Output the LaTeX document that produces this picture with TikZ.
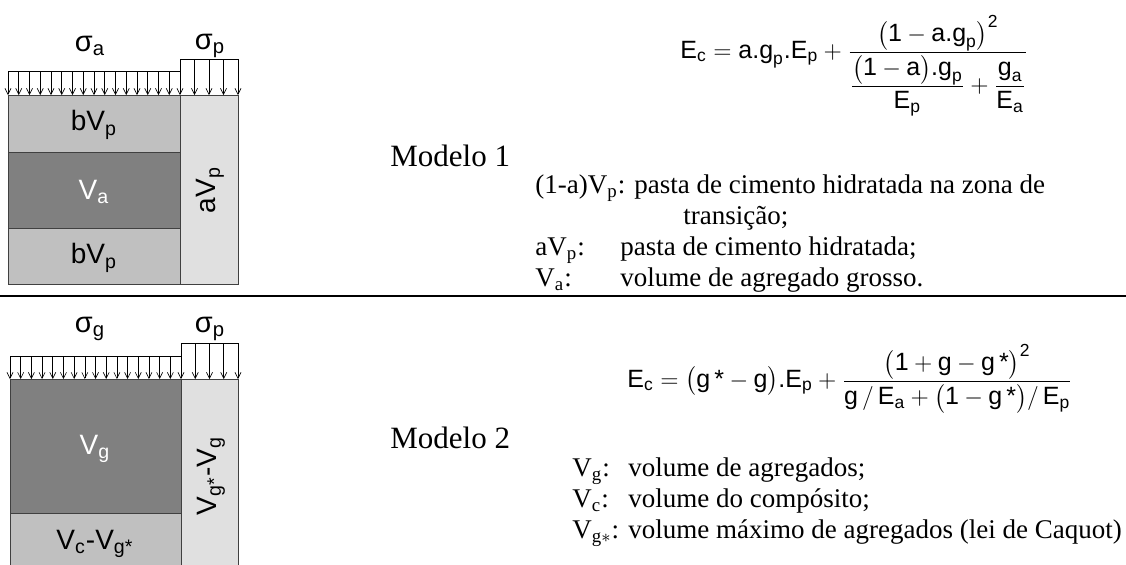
\documentclass[tikz,border=0pt]{standalone}
\usepackage{amsmath}
\usepackage{fontspec}
\setmainfont{Liberation Serif}
\setsansfont{Liberation Sans}
\usetikzlibrary{arrows.meta}

\definecolor{lightcell}{HTML}{C0C0C0}
\definecolor{darkcell}{HTML}{808080}
\definecolor{palecell}{HTML}{E0E0E0}
\newcommand{\eqsub}[2]{\textsf{#1}_{\textsf{#2}}}

\begin{document}
\begin{tikzpicture}[x=0.5pt, y=-0.5pt,
  cell/.style={draw=black!75, line width=0.5pt},
  lbl/.style={font=\sffamily\fontsize{14}{16}\selectfont, inner sep=0pt},
  sig/.style={font=\sffamily\fontsize{14.5}{16}\selectfont, inner sep=0pt},
  mdl/.style={anchor=base west, inner sep=0pt, font=\fontsize{15.5}{18}\selectfont},
  leg/.style={anchor=base west, inner sep=0pt, font=\fontsize{13.5}{16}\selectfont},
  eqn/.style={anchor=base west, inner sep=0pt, font=\fontsize{12.5}{15}\selectfont},
  load/.style={-{Straight Barb[length=3pt,width=3pt]}, line width=0.3pt}
]
\useasboundingbox (0,0) rectangle (1126,564);
\clip (0,0) rectangle (1126,564);

% Modelo 1
\filldraw[cell, fill=lightcell] (8,95) rectangle (180,152);
\filldraw[cell, fill=darkcell] (8,152) rectangle (180,228);
\filldraw[cell, fill=lightcell] (8,228) rectangle (180,284);
\filldraw[cell, fill=palecell] (180,95) rectangle (238,284);
\draw[line width=0.4pt] (8,71) -- (180,71);
\draw[line width=0.4pt] (180,59) -- (238,59);
\foreach \i in {0,...,15}
  \draw[load] ({8+\i*10.75},71) -- ({8+\i*10.75},95);
\foreach \i in {0,...,4}
  \draw[load] ({180+\i*14.5},59) -- ({180+\i*14.5},95);
\node[sig] (siga) at (90,46) {σ\textsubscript{a}};
\node[sig] (sigp) at (210,46) {σ\textsubscript{p}};
\node[lbl] (bvp1) at (94,125) {bV\textsubscript{p}};
\node[lbl, white] (va) at (94,192) {V\textsubscript{a}};
\node[lbl] (bvp2) at (94,258) {bV\textsubscript{p}};
\node[lbl, rotate=90] (avp) at (210,190) {aV\textsubscript{p}};

\node[mdl] (mod1) at (390,166) {Modelo 1};
\node[eqn] (eq1) at (680,58) {$\displaystyle \eqsub{E}{c} = \eqsub{a.g}{p}\eqsub{.E}{p} +
  \frac{\smash[b]{\bigl(\textsf{1} - \eqsub{a.g}{p}\bigr)^{\textsf{2}}}}
       {\dfrac{\smash[b]{\bigl(\textsf{1} - \textsf{a}\bigr)\eqsub{.g}{p}}}{\eqsub{E}{p}} + \dfrac{\eqsub{g}{a}}{\eqsub{E}{a}}}$};
\foreach \y/\txt [count=\i] in {
  193/{(1-a)V\textsubscript{p}: pasta de cimento hidratada na zona de},
  224/{\hspace{74pt}transição;},
  255/{\makebox[42.5pt][l]{aV\textsubscript{p}:}pasta de cimento hidratada;},
  286/{\makebox[42.5pt][l]{V\textsubscript{a}:}volume de agregado grosso.}}
  \node[leg] (legA-\i) at (535,\y) {\txt};

\draw[line width=1.3pt] (0,296) -- (1126,296);

% Modelo 2
\filldraw[cell, fill=darkcell] (10,379) rectangle (181,513);
\filldraw[cell, fill=lightcell] (10,513) rectangle (181,580);
\filldraw[cell, fill=palecell] (181,379) rectangle (238,580);
\draw[line width=0.4pt] (10,356) -- (181,356);
\draw[line width=0.4pt] (181,343) -- (238,343);
\foreach \i in {0,...,15}
  \draw[load] ({10+\i*10.69},356) -- ({10+\i*10.69},379);
\foreach \i in {0,...,4}
  \draw[load] ({181+\i*14.25},343) -- ({181+\i*14.25},379);
\node[sig] (sigg) at (90,329) {σ\textsubscript{g}};
\node[sig] (sigp2) at (210,329) {σ\textsubscript{p}};
\node[lbl, white] (vg) at (95,449) {V\textsubscript{g}};
\node[lbl] (vcg) at (95,544) {V\textsubscript{c}-V\textsubscript{g*}};
\node[lbl, rotate=90] (vgg) at (211,476) {V\textsubscript{g*}-V\textsubscript{g}};

\node[mdl] (mod2) at (390,448) {Modelo 2};
\node[eqn] (eq2) at (627,387) {$\displaystyle \eqsub{E}{c} = \bigl(\textsf{g\,*} - \textsf{g}\bigr)\eqsub{.E}{p} +
  \frac{\smash[b]{\bigl(\textsf{1} + \textsf{g} - \textsf{g\,*}\bigr)^{\textsf{2}}}}
       {\textsf{g}\,/\,\eqsub{E}{a} + \bigl(\textsf{1} - \textsf{g\,*}\bigr)/\,\eqsub{E}{p}}$};
\foreach \y/\lab/\txt [count=\i] in {
  476/{V\textsubscript{g}:}/{volume de agregados;},
  507/{V\textsubscript{c}:}/{volume do compósito;},
  538/{V\textsubscript{g$*$}:}/{volume máximo de agregados (lei de Caquot)}}
  \node[leg] (legB-\i) at (572,\y) {\makebox[28pt][l]{\lab}\txt};
\end{tikzpicture}
\end{document}
